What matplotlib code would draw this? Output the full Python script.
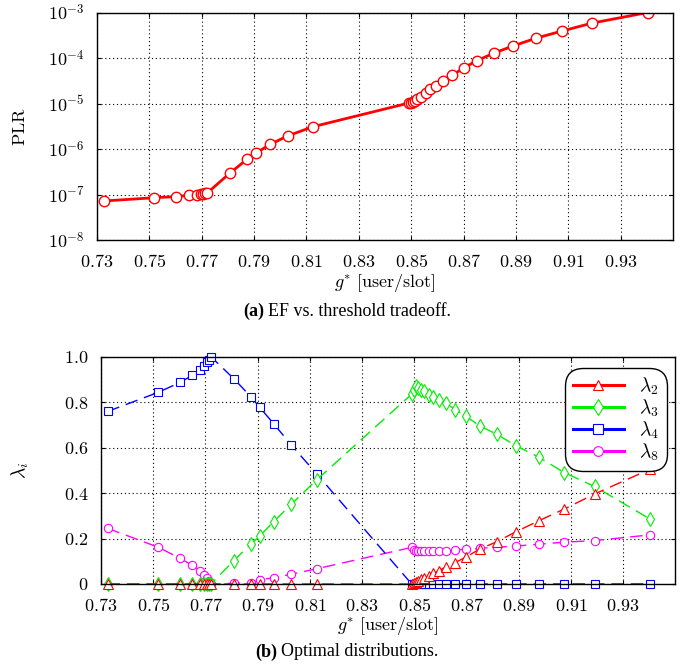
import matplotlib
matplotlib.use('Agg')
import matplotlib.pyplot as plt
from matplotlib.lines import Line2D

plt.rcParams['mathtext.fontset'] = 'cm'
plt.rcParams['font.family'] = ['Liberation Serif', 'DejaVu Serif']

# shared x positions g* [user/slot]
g_low = [0.7325, 0.7519, 0.7603, 0.7650, 0.7681, 0.7696, 0.7705, 0.7712, 0.7721]
g_mid = [0.7809, 0.7874, 0.7908, 0.7961, 0.8029, 0.8126]
g_high = [0.8490, 0.8498, 0.8506, 0.8514, 0.8524, 0.8538, 0.8555, 0.8573, 0.8593,
          0.8620, 0.8657, 0.8700, 0.8750, 0.8816, 0.8890, 0.8977, 0.9075, 0.9191, 0.9403]
g = g_low + g_mid + g_high

plr = [7.2e-8, 8.5e-8, 9.0e-8, 9.6e-8, 1.0e-7, 1.02e-7, 1.04e-7, 1.06e-7, 1.08e-7,
       3.0e-7, 6.0e-7, 8.2e-7, 1.26e-6, 1.95e-6, 3.1e-6,
       1.02e-5, 1.05e-5, 1.09e-5, 1.16e-5, 1.25e-5, 1.42e-5, 1.7e-5, 2.05e-5, 2.4e-5,
       3.1e-5, 4.2e-5, 6.0e-5, 8.7e-5, 1.28e-4, 1.85e-4, 2.73e-4, 3.9e-4, 5.85e-4, 1.0e-3]

lam2 = [0] * 9 + [0] * 6 + [0, 0.004, 0.008, 0.014, 0.020, 0.027, 0.036, 0.047, 0.058,
                            0.074, 0.094, 0.120, 0.153, 0.186, 0.230, 0.278, 0.330, 0.396, 0.505]
lam3 = [0] * 9 + [0.103, 0.176, 0.211, 0.274, 0.351, 0.458] + \
       [0.835, 0.855, 0.869, 0.862, 0.855, 0.848, 0.833, 0.822, 0.811,
        0.796, 0.767, 0.737, 0.696, 0.659, 0.608, 0.558, 0.490, 0.429, 0.286]
lam4 = [0.759, 0.843, 0.887, 0.918, 0.941, 0.960, 0.975, 0.987, 1.0] + \
       [0.903, 0.824, 0.777, 0.706, 0.611, 0.485] + [0] * 19
lam8 = [0.245, 0.162, 0.113, 0.082, 0.059, 0.040, 0.025, 0.013, 0.0] + \
       [0.003, 0.006, 0.018, 0.028, 0.043, 0.067] + \
       [0.161, 0.150, 0.147, 0.145, 0.144, 0.144, 0.144, 0.145, 0.145,
        0.146, 0.150, 0.153, 0.157, 0.162, 0.167, 0.175, 0.184, 0.191, 0.216]

x_ticks = [0.73, 0.75, 0.77, 0.79, 0.81, 0.83, 0.85, 0.87, 0.89, 0.91, 0.93]
x_labels = ['$0.73$', '$0.75$', '$0.77$', '$0.79$', '$0.81$', '$0.83$',
            '$0.85$', '$0.87$', '$0.89$', '$0.91$', '$0.93$']
plr_ticks = [1e-8, 1e-7, 1e-6, 1e-5, 1e-4, 1e-3]
plr_labels = ['$10^{-8}$', '$10^{-7}$', '$10^{-6}$', '$10^{-5}$', '$10^{-4}$', '$10^{-3}$']
lam_ticks = [0, 0.2, 0.4, 0.6, 0.8, 1.0]
lam_labels = ['$0$', '$0.2$', '$0.4$', '$0.6$', '$0.8$', '$1.0$']

W, H = 694, 667
fig = plt.figure(figsize=(W / 100, H / 100), dpi=100)
ax1 = fig.add_axes([97 / W, 1 - 240 / H, 576 / W, 227.5 / H])
ax2 = fig.add_axes([101 / W, 1 - 584 / H, 574.3 / W, 227.3 / H])

grid_kw = dict(color='black', linestyle=(0, (1, 2.5)), linewidth=0.8)
for ax in (ax1, ax2):
    ax.set_xlim(0.73, 0.95)
    ax.set_xticks(x_ticks, x_labels)
    ax.grid(True, **grid_kw)
    ax.tick_params(direction='in', length=3, width=0.8, labelsize=13,
                   top=True, right=True)
    ax.tick_params(axis='y', pad=9)
    for s in ax.spines.values():
        s.set_linewidth(1.0)
    ax.set_axisbelow(True)
ax1.tick_params(axis='x', pad=10)
ax2.tick_params(axis='x', pad=10)

# (a) PLR
ax1.set_yscale('log')
ax1.set_ylim(1e-8, 1e-3)
ax1.set_yticks(plr_ticks, plr_labels)
ax1.minorticks_off()
ax1.plot(g, plr, color='red', lw=2, marker='o', ms=7.5, mfc='white', mec='red', mew=1)
ax1.set_xlabel(r'$g^{*}\ \mathrm{[user/slot]}$', fontsize=13, labelpad=1)
ax1.set_ylabel(r'$\mathrm{PLR}$', fontsize=13)
ax1.yaxis.set_label_coords(-0.118, 0.5)

# (b) optimal distributions
ax2.set_ylim(0, 1.0)
ax2.set_yticks(lam_ticks, lam_labels)
dash = (9, 5)
series = [
    (lam8, '#ff00ff', 'o', 6, r'$\lambda_8$'),
    (lam4, '#0000ff', 's', 5.5, r'$\lambda_4$'),
    (lam3, '#00ee00', 'd', 7, r'$\lambda_3$'),
    (lam2, '#ff0000', '^', 6.5, r'$\lambda_2$'),
]
handles = []
for vals, col, mk, ms, lab in series:
    ax2.plot(g, vals, color=col, lw=1, dashes=dash, marker=mk, ms=ms,
             mfc='white', mec=col, mew=0.8, clip_on=False)
    handles.append(Line2D([], [], color=col, lw=2.2, marker=mk, ms=ms + 1,
                          mfc='white', mec=col, mew=0.8, label=lab))
handles = handles[::-1]
leg = ax2.legend(handles=handles, loc='upper right', bbox_to_anchor=(0.99, 0.963),
                 fontsize=14, handlelength=2.6, handletextpad=0.8, labelspacing=0.04,
                 borderpad=0.25, borderaxespad=0.3, fancybox=True, framealpha=1,
                 edgecolor='black')
leg.get_frame().set_linewidth(1.0)
leg.get_frame().set_boxstyle('round,pad=0.15,rounding_size=0.9')
ax2.set_xlabel(r'$g^{*}\ \mathrm{[user/slot]}$', fontsize=13, labelpad=0)
ax2.set_ylabel(r'$\lambda_i$', fontsize=14)
ax2.yaxis.set_label_coords(-0.122, 0.5)


def caption(y, tag, text):
    t1 = fig.text(0, y, tag, fontsize=13, fontweight='bold', va='center')
    t2 = fig.text(0, y, text, fontsize=13, va='center')
    fig.canvas.draw()
    r = fig.canvas.get_renderer()
    w1 = t1.get_window_extent(r).width
    w2 = t2.get_window_extent(r).width
    gap = 4
    left = (W - (w1 + gap + w2)) / 2
    t1.set_x(left / W)
    t2.set_x((left + w1 + gap) / W)


caption(1 - 311 / H, '(a)', 'EF vs. threshold tradeoff.')
caption(1 - 652 / H, '(b)', 'Optimal distributions.')

fig.savefig('out.png', dpi=100)
